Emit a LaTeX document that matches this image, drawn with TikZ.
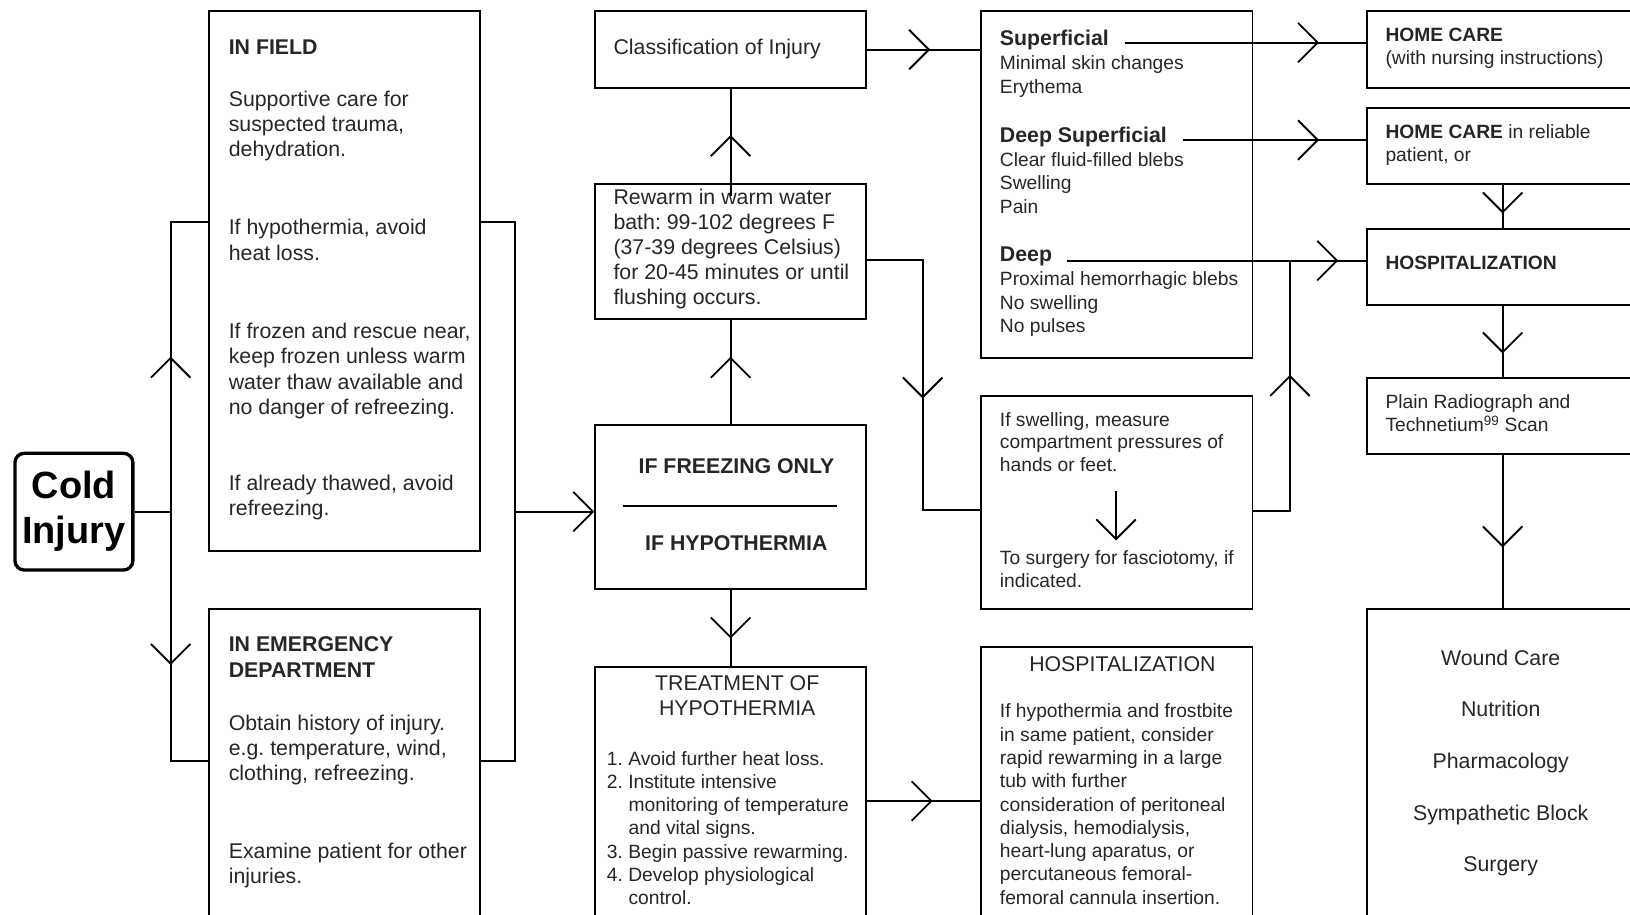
\documentclass[tikz,border=0pt]{standalone}
\usepackage{fontspec}
\setmainfont{Liberation Sans}
\frenchspacing
\usetikzlibrary{arrows.meta,decorations.markings,calc}

\tikzset{
	bigbarb/.tip={Straight Barb[length=19pt,width=38pt]},
	box/.style={draw, line width=1.8pt, anchor=north west, inner sep=0pt, minimum width=260.4pt},
	coldbox/.style={draw, line width=3.2pt, rounded corners=9pt, minimum width=113.4pt, minimum height=112.3pt, align=center, inner sep=0pt, font=\bfseries\fontsize{36.5}{43.3}\selectfont},
	txt/.style={anchor=base west, inner sep=0pt, align=left, text=black!85, font=\fontsize{20.5}{24.4}\selectfont},
	sm/.style={txt, font=\fontsize{18.5}{22.4}\selectfont},
	ctr/.style={txt, anchor=base, align=center},
	conn/.style={line width=1.8pt},
	midarrow/.style={conn, postaction={decorate}, decoration={markings, mark=at position #1 with {\arrow{bigbarb}}}},
}

\begin{document}
\begin{tikzpicture}[x=1pt, y=-1pt]
		\useasboundingbox (0,0) rectangle (1568,880);
		\clip (0,0) rectangle (1568,880);
		\node[coldbox] (cold) at (71.1,492.2) {Cold\\Injury};
		\node[box, minimum height=519.4pt] (infield) at (200.3,9.6) {};
		\node[box, minimum height=295pt] (emerg) at (200.3,585.2) {};
		\node[box, minimum height=74.4pt] (classif) at (571.7,9.6) {};
		\node[box, minimum height=130.5pt] (rewarm) at (571.7,175.7) {};
		\node[box, minimum height=157.8pt] (freeze) at (571.7,408.2) {};
		\node[box, minimum height=240pt] (treat) at (571.7,640.4) {};
		\node[box, minimum width=261pt, minimum height=333.5pt] (types) at (942.9,9.6) {};
		\node[box, minimum width=261pt, minimum height=204.5pt] (swell) at (942.9,380.4) {};
		\node[box, minimum width=261pt, minimum height=258.8pt] (hosp) at (942.9,621.7) {};
		\node[box, minimum width=261pt, minimum height=74.4pt] (home) at (1314.1,9.6) {};
		\node[box, minimum width=261pt, minimum height=73.8pt] (reliable) at (1314.1,102.6) {};
		\node[box, minimum width=261pt, minimum height=73.4pt] (hospital) at (1314.1,219) {};
		\node[box, minimum width=261pt, minimum height=73.1pt] (radio) at (1314.1,362.4) {};
		\node[box, minimum width=261pt, minimum height=295.5pt] (care) at (1314.1,584.9) {};

		\node[txt] (infieldhead) at (219.9,52.3) {\textbf{IN FIELD}};
		\node[txt] (infielda) at (219.9,150.8) {Supportive care for\\suspected trauma,\\dehydration.};
		\node[txt] (infieldb) at (219.9,250.4) {If hypothermia, avoid\\heat loss.};
		\node[txt] (infieldc) at (219.9,398.7) {If frozen and rescue near,\\keep frozen unless warm\\water thaw available and\\no danger of refreezing.};
		\node[txt] (infieldd) at (219.9,495.8) {If already thawed, avoid\\refreezing.};
		\node[txt] (emerghead) at (219.9,651.3) {\textbf{IN EMERGENCY}\\\textbf{DEPARTMENT}};
		\node[txt] (emerga) at (219.9,751.1) {Obtain history of injury.\\e.g. temperature, wind,\\clothing, refreezing.};
		\node[txt] (emergb) at (219.9,850.1) {Examine patient for other\\injuries.};

		\node[txt] (classiftxt) at (590,52.9) {Classification of Injury};
		\node[txt, font=\fontsize{20.5}{24}\selectfont] (rewarmtxt) at (590,293.2) {Rewarm in warm water\\bath: 99-102 degrees F\\(37-39 degrees Celsius)\\for 20-45 minutes or until\\flushing occurs.};
		\node[ctr] (freezeonly) at (708.5,455.3) {\textbf{IF FREEZING ONLY}};
		\draw[conn] (599,486.8) -- (804.9,486.8);
		\node[ctr] (hypo) at (708.3,530) {\textbf{IF HYPOTHERMIA}};
		\node[ctr] (treathead) at (709.2,688.2) {TREATMENT OF\\HYPOTHERMIA};
		\node[sm] (treatlist) at (583.6,870.3) {1. Avoid further heat loss.\\2. Institute intensive\\\hspace*{20.9pt}monitoring of temperature\\\hspace*{20.9pt}and vital signs.\\3. Begin passive rewarming.\\4. Develop physiological\\\hspace*{20.9pt}control.};

		\node[txt] (sup) at (961.7,43.3) {\textbf{Superficial}};
		\node[sm] (supitems) at (961.7,89.7) {Minimal skin changes\\Erythema};
		\node[txt] (deepsup) at (961.7,137.2) {\textbf{Deep Superficial}};
		\node[sm] (deepsupitems) at (961.7,205.1) {Clear fluid-filled blebs\\Swelling\\Pain};
		\node[txt] (deep) at (961.7,251.7) {\textbf{Deep}};
		\node[sm] (deepitems) at (961.7,319.9) {Proximal hemorrhagic blebs\\No swelling\\No pulses};
		\node[sm, font=\fontsize{18.5}{21.9}\selectfont] (swella) at (961.7,453.6) {If swelling, measure\\compartment pressures of\\hands or feet.};
		\node[sm] (swellb) at (961.7,565.3) {To surgery for fasciotomy, if\\indicated.};
		\node[ctr] (hosphead) at (1079.7,646.3) {HOSPITALIZATION};
		\node[sm] (hosptxt) at (961.7,869.8) {If hypothermia and frostbite\\in same patient, consider\\rapid rewarming in a large\\tub with further\\consideration of peritoneal\\dialysis, hemodialysis,\\heart-lung aparatus, or\\percutaneous femoral-\\femoral cannula insertion.};

		\node[sm] (hometxt) at (1332.6,62.5) {\textbf{HOME CARE}\\(with nursing instructions)};
		\node[sm] (reliabletxt) at (1332.6,155.4) {\textbf{HOME CARE} in reliable\\patient, or};
		\node[sm] (hospitaltxt) at (1332.6,259.7) {\textbf{HOSPITALIZATION}};
		\node[sm] (radiotxt) at (1332.6,415.2) {Plain Radiograph and\\Technetium\textsuperscript{99} Scan};
		\node[ctr, font=\fontsize{20.5}{49.7}\selectfont] (caretxt) at (1443.6,838.5) {Wound Care\\Nutrition\\Pharmacology\\Sympathetic Block\\Surgery};

		\coordinate (jl) at (164.2,492.2);
		\coordinate (jlt) at (164.2,213.2);
		\coordinate (jlb) at (164.2,732);
		\coordinate (jrt) at (495.8,213.2);
		\coordinate (jrb) at (495.8,732);
		\coordinate (jr) at (495.8,492.2);
		\coordinate (sa) at (887.6,250.1);
		\coordinate (sb) at (887.6,491);
		\coordinate (sj) at (1240.9,491.3);
		\coordinate (tj) at (832.1,770.5);
		\coordinate (sw1) at (1073.6,472.3);
		\coordinate (sw2) at (1073.6,519.9);
		\coordinate (s1) at ($(sup.base east)+(15,-2.3)$);
		\coordinate (s2) at ($(deepsup.base east)+(15.7,-2.5)$);
		\coordinate (s3) at ($(deep.base east)+(14.5,-1)$);

		\draw[conn] (cold.east) -- (jl);
		\draw[midarrow=149.2pt] (jl) -- (jlt) -- (jlt -| infield.west);
		\draw[midarrow=147.5pt] (jl) -- (jlb) -- (jlb -| emerg.west);
		\draw[conn] (jrt -| infield.east) -- (jrt) -- (jrb) -- (jrb -| emerg.east);
		\draw[conn, -bigbarb] (jr) -- (jr -| freeze.west);
		\draw[midarrow=65.1pt] (freeze.north) -- (rewarm.south);
		\draw[midarrow=59.1pt] ($(rewarm.north)+(0,13.3)$) -- (classif.south);
		\draw[midarrow=60.9pt] (classif.east) -- (classif.east -| types.west);
		\draw[midarrow=187pt] (rewarm.east |- sa) -- (sa) -- (sb) -- (sb -| swell.west);
		\draw[midarrow=46.5pt] (freeze.south) -- (treat.north);
		\draw[midarrow=65.1pt] (tj) -- (tj -| hosp.west);
		\draw[midarrow=-45.2pt] (s1) -- (s1 -| home.west);
		\draw[midarrow=-45.2pt] (s2) -- (s2 -| reliable.west);
		\draw[midarrow=-26.7pt] (s3) -- (s3 -| hospital.west);
		\draw[midarrow=165.9pt] (sj -| swell.east) -- (sj) -- (sj |- s3);
		\draw[conn, -bigbarb] (sw1) -- (sw2);
		\draw[midarrow=27.2pt] (reliable.south) -- (hospital.north);
		\draw[midarrow=45.9pt] (hospital.south) -- (radio.north);
		\draw[midarrow=89.3pt] (radio.south) -- (care.north);
	\end{tikzpicture}
\end{document}
